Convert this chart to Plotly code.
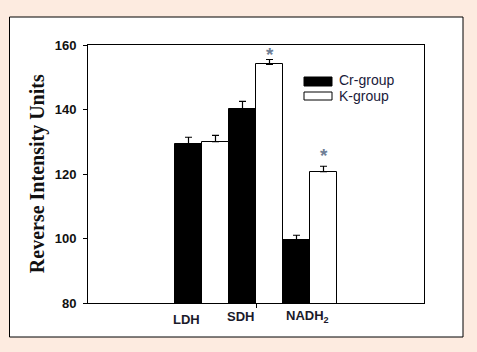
import plotly.graph_objects as go

categories = ["LDH", "SDH", "NADH<sub>2</sub>"]
cr_values = [129.2, 140.2, 99.5]
cr_errors = [2.2, 2.3, 1.5]
k_values = [130.0, 154.0, 120.7]
k_errors = [2.0, 1.5, 1.7]
y_ticks = [80, 100, 120, 140, 160]
star_cat = [2, 3]
star_y = [157.2, 125.8]

xpos = [1, 2, 3]

fig = go.Figure()
fig.add_trace(go.Bar(
    x=xpos, y=cr_values, name="Cr-group",
    marker=dict(color="black", line=dict(color="black", width=1)),
    error_y=dict(type="data", symmetric=False, array=cr_errors,
                 arrayminus=[0] * 3, color="black", thickness=1.2, width=3.5),
))
fig.add_trace(go.Bar(
    x=xpos, y=k_values, name="K-group",
    marker=dict(color="white", line=dict(color="black", width=1)),
    error_y=dict(type="data", symmetric=False, array=k_errors,
                 arrayminus=[0] * 3, color="black", thickness=1.2, width=3.5),
))

# asterisks
for c, yv in zip(star_cat, star_y):
    fig.add_annotation(x=c + 0.25, y=yv, text="<b>*</b>", showarrow=False,
                       font=dict(family="Liberation Sans", size=19, color="#6f7f96"),
                       xref="x", yref="y")

# category labels
label_offsets = [-0.28, -0.28, -0.04]
label_y = [-0.064, -0.054, -0.054]
for c, lab, off, ly in zip(xpos, categories, label_offsets, label_y):
    fig.add_annotation(x=c + off, y=ly, xref="x", yref="paper", text="<b>" + lab + "</b>",
                       showarrow=False, yanchor="middle",
                       font=dict(family="Liberation Sans", size=13, color="#1a1a2a"))

# y-axis title
fig.add_annotation(x=-0.19, y=0.502, xref="paper", yref="paper",
                   text="<b>Reverse Intensity Units</b>", textangle=-90, showarrow=False,
                   font=dict(family="Liberation Serif", size=20, color="#111111"))

# legend (manual)
def px_x(p):
    return (p - 88) / 336.0

def px_y(p):
    return (303 - p) / 258.0

fig.add_shape(type="rect", xref="paper", yref="paper",
              x0=px_x(304), x1=px_x(332), y0=px_y(86), y1=px_y(77),
              fillcolor="black", line=dict(color="black", width=1))
fig.add_shape(type="rect", xref="paper", yref="paper",
              x0=px_x(304), x1=px_x(332), y0=px_y(100), y1=px_y(92),
              fillcolor="white", line=dict(color="black", width=1))
fig.add_annotation(x=px_x(337), y=px_y(80), xref="paper", yref="paper", text="Cr-group",
                   showarrow=False, xanchor="left", yanchor="middle",
                   font=dict(family="Liberation Sans", size=14, color="#1a1a3a"))
fig.add_annotation(x=px_x(337), y=px_y(96), xref="paper", yref="paper", text="K-group",
                   showarrow=False, xanchor="left", yanchor="middle",
                   font=dict(family="Liberation Sans", size=14, color="#1a1a3a"))

# outer white frame
fig.add_shape(type="rect", xref="paper", yref="paper", layer="below",
              x0=px_x(9.5), x1=px_x(463), y0=px_y(337), y1=px_y(17),
              fillcolor="white", line=dict(color="black", width=1))

fig.update_layout(
    width=477, height=352,
    margin=dict(l=88, r=53, t=45, b=49),
    paper_bgcolor="#fdebe0",
    plot_bgcolor="white",
    barmode="group", bargap=0, bargroupgap=0,
    showlegend=False,
    font=dict(family="Liberation Sans", color="black"),
)
fig.update_xaxes(range=[2 - 3.111, 2 + 3.111], showgrid=False, zeroline=False,
                 showline=True, linecolor="black", linewidth=1, mirror=True,
                 tickvals=[2], showticklabels=False, ticks="outside", ticklen=4,
                 tickcolor="black")
fig.update_yaxes(range=[80, 160], tickvals=y_ticks, showgrid=False, zeroline=False,
                 showline=True, linecolor="black", linewidth=1, mirror=True,
                 ticks="outside", ticklen=4, tickcolor="black", ticklabelstandoff=4,
                 tickfont=dict(family="Liberation Sans", size=13, color="#111111", weight="bold"))

fig.write_html("out.html")
